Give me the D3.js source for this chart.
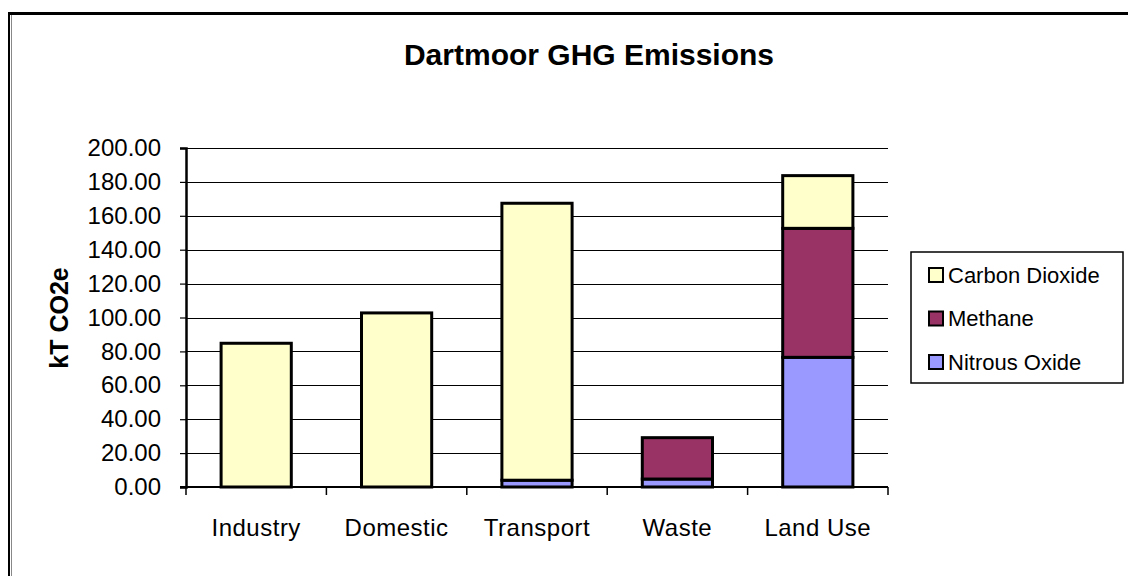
<!DOCTYPE html>
<html>
<head>
<meta charset="utf-8">
<script src="https://cdn.jsdelivr.net/npm/d3@7"></script>
<style>
  html, body { margin: 0; padding: 0; background: #fff; }
  svg { display: block; font-family: "Liberation Sans", Arial, sans-serif; }
</style>
</head>
<body>
<div id="chart"></div>
<script>
/**
 * Dartmoor GHG Emissions - stacked bar chart (Excel style) redrawn with D3.
 */

// Sectors along the x axis
const CATEGORIES = ['Industry', 'Domestic', 'Transport', 'Waste', 'Land Use'];

// Series values, kT CO2e
const CARBON_DIOXIDE = [84.8, 102.7, 163.4, 0, 31.1];
const METHANE        = [0, 0, 0, 24.4, 76.1];
const NITROUS_OXIDE  = [0, 0, 4.0, 4.7, 76.5];

// Y tick values
const Y_TICKS = [0, 20, 40, 60, 80, 100, 120, 140, 160, 180, 200];

// Stack order, bottom first
const SERIES = [
  { name: 'Nitrous Oxide',  values: NITROUS_OXIDE,  color: '#9999ff' },
  { name: 'Methane',        values: METHANE,        color: '#993366' },
  { name: 'Carbon Dioxide', values: CARBON_DIOXIDE, color: '#ffffcc' }
];

const W = 1128, H = 576;
const plot = { left: 186, right: 888, top: 148, bottom: 487 };

const svg = d3.select('#chart').append('svg')
  .attr('width', W)
  .attr('height', H);

/* ------------------------------------------------------------------ */
/*  Page frame (the chart is a clipped screenshot inside a document)  */
/* ------------------------------------------------------------------ */

svg.append('line')
  .attr('x1', 8).attr('x2', W).attr('y1', 13.5).attr('y2', 13.5)
  .attr('stroke', '#000').attr('stroke-width', 3);
svg.append('line')
  .attr('x1', 9).attr('x2', 9).attr('y1', 12).attr('y2', H)
  .attr('stroke', '#000').attr('stroke-width', 2);
svg.append('line')
  .attr('x1', 11.5).attr('x2', 11.5).attr('y1', 15).attr('y2', H)
  .attr('stroke', '#888').attr('stroke-width', 1);

/* ------------------------------------------------------------------ */
/*  Title                                                              */
/* ------------------------------------------------------------------ */

svg.append('text')
  .attr('x', 589).attr('y', 65)
  .attr('text-anchor', 'middle')
  .attr('font-size', 30).attr('font-weight', 'bold')
  .text('Dartmoor GHG Emissions');

/* ------------------------------------------------------------------ */
/*  Scales                                                             */
/* ------------------------------------------------------------------ */

const x = d3.scaleBand()
  .domain(CATEGORIES)
  .range([plot.left, plot.right])
  .paddingInner(0.5)
  .paddingOuter(0.25);

const y = d3.scaleLinear()
  .domain([0, 200])
  .range([plot.bottom, plot.top]);

// Gridlines
svg.append('g')
  .selectAll('line')
  .data(Y_TICKS.filter(t => t > 0))
  .enter().append('line')
  .attr('x1', plot.left).attr('x2', plot.right)
  .attr('y1', d => Math.round(y(d)) + 0.5)
  .attr('y2', d => Math.round(y(d)) + 0.5)
  .attr('stroke', '#000').attr('stroke-width', 1.2);

/* ------------------------------------------------------------------ */
/*  Stacked bars                                                       */
/* ------------------------------------------------------------------ */

const rows = CATEGORIES.map((c, i) => {
  const r = { category: c };
  SERIES.forEach(s => { r[s.name] = s.values[i]; });
  return r;
});

const stack = d3.stack().keys(SERIES.map(s => s.name));
const layers = stack(rows);

layers.forEach((layer, li) => {
  svg.append('g')
    .selectAll('rect')
    .data(layer.filter(d => d[1] - d[0] > 0))
    .enter().append('rect')
    .attr('x', d => x(d.data.category))
    .attr('y', d => y(d[1]))
    .attr('width', x.bandwidth())
    .attr('height', d => y(d[0]) - y(d[1]))
    .attr('fill', SERIES[li].color)
    .attr('stroke', '#000')
    .attr('stroke-width', 3);
});

/* ------------------------------------------------------------------ */
/*  Axes                                                               */
/* ------------------------------------------------------------------ */

const yAxis = svg.append('g')
  .attr('transform', `translate(${plot.left},0)`)
  .call(d3.axisLeft(y).tickValues(Y_TICKS).tickSize(6).tickPadding(19)
    .tickFormat(d3.format('.2f')));
yAxis.select('.domain').attr('stroke-width', 2.5);
yAxis.selectAll('.tick line').attr('stroke-width', 1.2);
yAxis.selectAll('.tick text')
  .attr('font-size', 24)
  .attr('font-family', '"Liberation Sans", Arial, sans-serif')
  .attr('fill', '#000');

// X axis: ticks sit on the category boundaries, Excel style
const xAxis = svg.append('g');
xAxis.append('line')
  .attr('x1', plot.left - 6).attr('x2', plot.right)
  .attr('y1', plot.bottom).attr('y2', plot.bottom)
  .attr('stroke', '#000').attr('stroke-width', 2);

const step = x.step();
xAxis.selectAll('line.xtick')
  .data(d3.range(CATEGORIES.length + 1))
  .enter().append('line')
  .attr('class', 'xtick')
  .attr('x1', i => plot.left + i * step)
  .attr('x2', i => plot.left + i * step)
  .attr('y1', plot.bottom).attr('y2', plot.bottom + 8)
  .attr('stroke', '#000').attr('stroke-width', 1.5);

xAxis.selectAll('text')
  .data(CATEGORIES)
  .enter().append('text')
  .attr('x', d => x(d) + x.bandwidth() / 2)
  .attr('y', 536)
  .attr('text-anchor', 'middle')
  .attr('font-size', 24)
  .attr('letter-spacing', 0.5)
  .text(d => d);

// Y axis title
svg.append('text')
  .attr('transform', 'translate(68,318) rotate(-90)')
  .attr('text-anchor', 'middle')
  .attr('font-size', 25).attr('font-weight', 'bold')
  .text('kT CO2e');

/* ------------------------------------------------------------------ */
/*  Legend                                                             */
/* ------------------------------------------------------------------ */

const legend = svg.append('g').attr('transform', 'translate(911,252)');
legend.append('rect')
  .attr('width', 212).attr('height', 131)
  .attr('fill', '#fff').attr('stroke', '#000').attr('stroke-width', 1.5);

const legendItems = legend.selectAll('g.item')
  .data(SERIES.slice().reverse())
  .enter().append('g')
  .attr('class', 'item')
  .attr('transform', (d, i) => `translate(18,${23 + i * 43.5})`);

legendItems.append('rect')
  .attr('x', 0).attr('y', -7)
  .attr('width', 14).attr('height', 14)
  .attr('fill', d => d.color)
  .attr('stroke', '#000').attr('stroke-width', 2);

legendItems.append('text')
  .attr('x', 19).attr('y', 0)
  .attr('dy', '0.36em')
  .attr('font-size', 22)
  .text(d => d.name);
</script>
</body>
</html>
